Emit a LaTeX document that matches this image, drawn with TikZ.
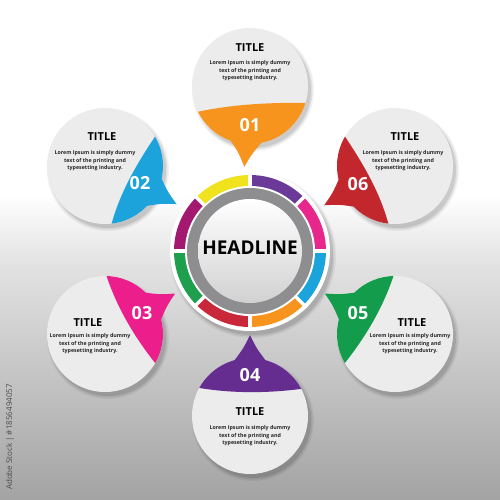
\documentclass[tikz,border=0pt]{standalone}
\usepackage{fontspec}
\setmainfont{Open Sans}
\usetikzlibrary{calc}
\definecolor{corange}{HTML}{F7941E}
\definecolor{cblue}{HTML}{1CA3DC}
\definecolor{cpink}{HTML}{EB1E8C}
\definecolor{cpurple}{HTML}{662D91}
\definecolor{cgreen}{HTML}{129C4B}
\definecolor{cred}{HTML}{C1272D}
\definecolor{syellow}{HTML}{F0E21C}
\definecolor{spurple}{HTML}{6B3A99}
\definecolor{spink}{HTML}{E8278C}
\definecolor{sblue}{HTML}{1BA3DC}
\definecolor{sorange}{HTML}{F7941E}
\definecolor{sred}{HTML}{C9283A}
\definecolor{sgreen}{HTML}{1E9F4E}
\definecolor{smag}{HTML}{A2196F}
\definecolor{bubble}{HTML}{ECECEC}
\definecolor{ringgray}{HTML}{8E8E90}
\definecolor{bgmid}{HTML}{E2E2E2}
\definecolor{bgbot}{HTML}{A3A3A3}
\newcommand\softshadow[2]{%
  \fill[black,opacity=0.05] ($(#1)+(3,4)$) circle ({#2+3});
  \fill[black,opacity=0.07] ($(#1)+(3,4)$) circle ({#2+1.5});
  \fill[black,opacity=0.09] ($(#1)+(3,4)$) circle (#2);}
\newcommand\pointer[3]{%
  \fill[#3] ($(#1)+(#2+16:57.5)$) .. controls ($(#1)+(#2+5.5:68)$) .. ($(#1)+(#2:81)$)
    .. controls ($(#1)+(#2-5.5:68)$) .. ($(#1)+(#2-16:57.5)$) -- ($(#1)+(#2:44)$) -- cycle;}
\tikzset{
  ttl/.style={font=\bfseries\fontsize{11}{11}\selectfont, inner sep=0pt},
  body/.style={font=\bfseries\fontsize{5.3}{7.6}\selectfont, align=center, inner sep=0pt, text=black!85},
  num/.style={font=\bfseries\fontsize{18}{18}\selectfont, text=white, inner sep=0pt},
  head/.style={font=\bfseries\fontsize{19}{19}\selectfont, inner sep=0pt},
}
\begin{document}
\begin{tikzpicture}[x=1pt,y=-1pt]
\useasboundingbox (0,0) rectangle (500,500);
% background
\fill[white] (0,0) rectangle (500,500);
\shade[top color=white, bottom color=bgmid] (0,195) rectangle (500,265);
\shade[top color=bgmid, bottom color=bgbot] (0,265) rectangle (500,500.5);
% coordinates
\coordinate (ctr) at (250,251);
\coordinate (c1) at (250,86);
\coordinate (c2) at (105,166);
\coordinate (c3) at (105,334);
\coordinate (c4) at (250,416);
\coordinate (c5) at (395,334);
\coordinate (c6) at (395,166);
% shadows
\softshadow{ctr}{80}
\foreach \c in {c1,c2,c3,c4,c5,c6}{\softshadow{\c}{58}}
% bubbles
\foreach \c in {c1,c2,c3,c4,c5,c6}{\fill[bubble] (\c) circle (58);}
% 01 orange bottom
\begin{scope}\clip (c1) circle (58);
\fill[corange] (180,116) .. controls (225,104) and (270,102) .. (320,103) -- (320,160) -- (180,160) -- cycle;
\end{scope}
\pointer{c1}{94}{corange}
% 04 purple top
\begin{scope}\clip (c4) circle (58);
\fill[cpurple] (180,384) .. controls (225,395) and (275,394) .. (320,386) -- (320,340) -- (180,340) -- cycle;
\end{scope}
\pointer{c4}{270}{cpurple}
% 02 blue right
\begin{scope}\clip (c2) circle (58);
\fill[cblue] (165,122) .. controls (135,165) and (115,200) .. (108,240) -- (180,240) -- (180,100) -- cycle;
\end{scope}
\pointer{c2}{28}{cblue}
% 06 red left
\begin{scope}\clip (c6) circle (58);
\fill[cred] (335,122) .. controls (365,165) and (385,200) .. (392,240) -- (320,240) -- (320,100) -- cycle;
\end{scope}
\pointer{c6}{151}{cred}
% 03 pink right
\begin{scope}\clip (c3) circle (58);
\fill[cpink] (104,268) .. controls (115,305) and (135,340) .. (165,375) -- (180,375) -- (180,260) -- cycle;
\end{scope}
\pointer{c3}{-30}{cpink}
% 05 green left
\begin{scope}\clip (c5) circle (58);
\fill[cgreen] (396,268) .. controls (385,305) and (365,340) .. (335,375) -- (320,375) -- (320,260) -- cycle;
\end{scope}
\pointer{c5}{-150}{cgreen}
% center ring
\fill[white] (ctr) circle (80);
\begin{scope}\clip (ctr) circle (76);
\foreach \a/\col in {315/spink,0/sblue,45/sorange,90/sred,135/sgreen,180/smag,225/syellow,270/spurple}{
  \fill[\col] (ctr) -- ($(ctr)+(\a:90)$) -- ($(ctr)+(\a+22.5:95)$) -- ($(ctr)+(\a+45:90)$) -- cycle;}
\end{scope}
\foreach \a in {0,45,...,315}{\draw[white, line width=3.2pt] ($(ctr)+(\a:60)$) -- ($(ctr)+(\a:80)$);}
\fill[white] (ctr) circle (65);
\fill[ringgray] (ctr) circle (63);
\shade[top color=white, bottom color=black!18] (ctr) circle (52);
\node[head] (hl) at (250,248) {HEADLINE};
% texts
\node[ttl] (t1) at (250,48) {TITLE};
\node[body] (b1) at (250,71) {Lorem Ipsum is simply dummy\\text of the printing and\\typesetting industry.};
\node[num] (n1) at (250,125) {01};
\node[num] (n4) at (250,375) {04};
\node[ttl] (t4) at (250,412) {TITLE};
\node[body] (b4) at (250,436) {Lorem Ipsum is simply dummy\\text of the printing and\\typesetting industry.};
\node[ttl] (t2) at (102,137) {TITLE};
\node[body] (b2) at (95,161) {Lorem Ipsum is simply dummy\\text of the printing and\\typesetting industry.};
\node[num] (n2) at (140,183) {02};
\node[ttl] (t6) at (405,137) {TITLE};
\node[body] (b6) at (403,161) {Lorem Ipsum is simply dummy\\text of the printing and\\typesetting industry.};
\node[num] (n6) at (358,184) {06};
\node[ttl] (t3) at (88,323) {TITLE};
\node[body] (b3) at (90,344) {Lorem Ipsum is simply dummy\\text of the printing and\\typesetting industry.};
\node[num] (n3) at (142,313) {03};
\node[ttl] (t5) at (412,323) {TITLE};
\node[body] (b5) at (410,344) {Lorem Ipsum is simply dummy\\text of the printing and\\typesetting industry.};
\node[num] (n5) at (358,313) {05};
% side credit
\node[rotate=90, font=\fontsize{8}{8}\selectfont, text=black!70, inner sep=0pt] (wm) at (10,437) {Adobe Stock | \#1856494057};
\end{tikzpicture}
\end{document}
